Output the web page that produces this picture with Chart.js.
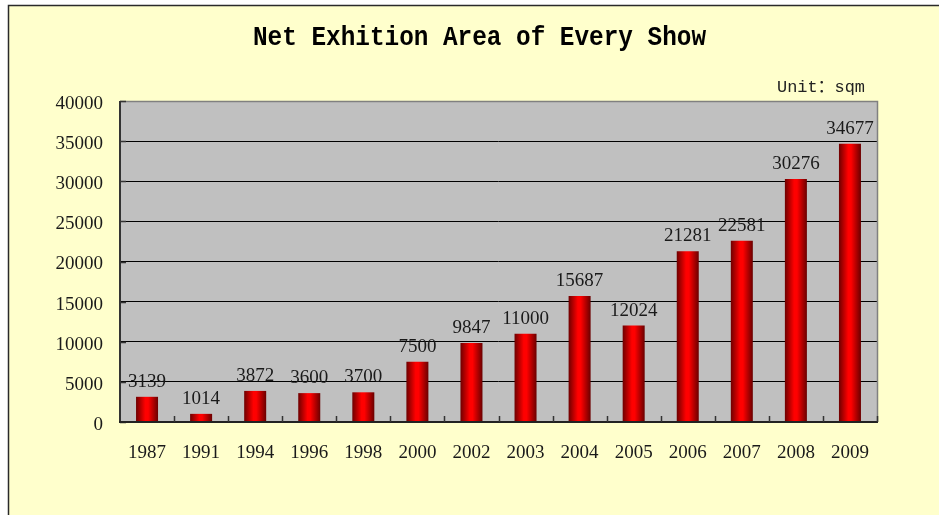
<!DOCTYPE html>
<html>
<head>
<meta charset="utf-8">
<script src="https://cdn.jsdelivr.net/npm/chart.js@4/dist/chart.umd.min.js"></script>
<style>
html,body{margin:0;padding:0;background:#ffffff;}
#wrap{position:relative;width:939px;height:515px;}
canvas{display:block;}
</style>
</head>
<body>
<div id="wrap"><canvas id="c" width="939" height="515"></canvas></div>
<script>
const years = ['1987','1991','1994','1996','1998','2000','2002','2003','2004','2005','2006','2007','2008','2009'];
const areaValues = [3139,1014,3872,3600,3700,7500,9847,11000,15687,12024,21281,22581,30276,34677];
const yTicks = [0,5000,10000,15000,20000,25000,30000,35000,40000];
const titleText = 'Net Exhition Area of Every Show';
const unitText = 'Unit：sqm';

const BAR_FRACTION = 0.407;

function barGradient(context) {
  const chart = context.chart;
  const xs = chart.scales && chart.scales.x;
  if (!xs || !chart.chartArea) return '#e00000';
  const cx = xs.getPixelForValue(context.dataIndex);
  const w = (xs.width / years.length) * BAR_FRACTION;
  const g = chart.ctx.createLinearGradient(cx - w / 2, 0, cx + w / 2, 0);
  g.addColorStop(0, '#6e0000');
  g.addColorStop(0.42, '#ff0000');
  g.addColorStop(0.55, '#ff0000');
  g.addColorStop(1, '#6a0000');
  return g;
}

function fitText(ctx, text, x, y, targetW, align) {
  const w = ctx.measureText(text).width;
  const s = targetW / w;
  ctx.save();
  ctx.translate(x, y);
  ctx.scale(s, 1);
  ctx.textAlign = 'left';
  let ox = 0;
  if (align === 'center') ox = -w / 2;
  else if (align === 'right') ox = -w;
  ctx.fillText(text, ox, 0);
  ctx.restore();
}

const decor = {
  id: 'decor',
  beforeDraw(chart) {
    const ctx = chart.ctx;
    const a = chart.chartArea;
    ctx.save();
    ctx.fillStyle = '#ffffff';
    ctx.fillRect(0, 0, chart.width, chart.height);
    ctx.fillStyle = '#ffffcc';
    ctx.fillRect(8, 5, chart.width - 8, chart.height - 5);
    ctx.strokeStyle = '#2a2a2a';
    ctx.lineWidth = 1.5;
    ctx.beginPath();
    ctx.moveTo(8.5, chart.height + 2);
    ctx.lineTo(8.5, 5.5);
    ctx.lineTo(chart.width + 2, 5.5);
    ctx.stroke();
    // plot background
    ctx.fillStyle = '#c0c0c0';
    ctx.fillRect(a.left, a.top, a.right - a.left, a.bottom - a.top);
    // title
    ctx.fillStyle = '#000000';
    ctx.textBaseline = 'alphabetic';
    ctx.font = 'bold 28px "Liberation Mono", "DejaVu Sans Mono", monospace';
    fitText(ctx, titleText, 479.5, 45, 453, 'center');
    ctx.fillStyle = '#222222';
    ctx.font = '17px "Liberation Mono", "Noto Sans CJK SC", monospace';
    fitText(ctx, unitText, 865, 92, 88, 'right');
    ctx.restore();
  },
  afterDatasetsDraw(chart) {
    const ctx = chart.ctx;
    const a = chart.chartArea;
    const xs = chart.scales.x;
    ctx.save();
    // plot border top/right
    ctx.strokeStyle = '#808080';
    ctx.lineWidth = 1.5;
    ctx.beginPath();
    ctx.moveTo(a.left, a.top + 0.5);
    ctx.lineTo(a.right + 0.5, a.top + 0.5);
    ctx.lineTo(a.right + 0.5, a.bottom);
    ctx.stroke();
    // left axis
    ctx.strokeStyle = '#333333';
    ctx.lineWidth = 2;
    ctx.beginPath();
    ctx.moveTo(a.left, a.top);
    ctx.lineTo(a.left, a.bottom);
    ctx.stroke();
    // y inside ticks
    const ys = chart.scales.y;
    ctx.lineWidth = 1.5;
    ctx.beginPath();
    yTicks.forEach(v => {
      const py = Math.round(ys.getPixelForValue(v)) + 0.5;
      ctx.moveTo(a.left, py);
      ctx.lineTo(a.left + 6, py);
    });
    ctx.stroke();
    // bottom axis
    ctx.strokeStyle = '#222222';
    ctx.lineWidth = 2;
    ctx.beginPath();
    ctx.moveTo(a.left - 1, a.bottom);
    ctx.lineTo(a.right + 1, a.bottom);
    ctx.stroke();
    // x inside ticks at category boundaries
    ctx.lineWidth = 1.5;
    ctx.strokeStyle = '#333333';
    ctx.beginPath();
    const step = xs.width / years.length;
    for (let i = 1; i <= years.length; i++) {
      const px = Math.round(a.left + i * step) + 0.5;
      ctx.moveTo(px, a.bottom);
      ctx.lineTo(px, a.bottom - 6);
    }
    ctx.stroke();
    // data labels
    const meta = chart.getDatasetMeta(0);
    ctx.fillStyle = '#1a1a1a';
    ctx.font = '19px "Liberation Serif", "DejaVu Serif", serif';
    ctx.textAlign = 'center';
    ctx.textBaseline = 'alphabetic';
    meta.data.forEach((bar, i) => {
      ctx.fillText(String(areaValues[i]), bar.x, bar.y - 10);
    });
    ctx.restore();
  }
};

new Chart(document.getElementById('c'), {
  type: 'bar',
  data: {
    labels: years,
    datasets: [{
      data: areaValues,
      backgroundColor: barGradient,
      borderWidth: 0,
      barPercentage: BAR_FRACTION,
      categoryPercentage: 1.0
    }]
  },
  options: {
    responsive: false,
    animation: false,
    events: [],
    layout: { padding: { left: 0, top: 101, right: 62, bottom: 0 } },
    plugins: { legend: { display: false }, title: { display: false }, tooltip: { enabled: false } },
    scales: {
      x: {
        grid: { display: false, drawTicks: false },
        border: { display: false },
        ticks: { color: '#1a1a1a', padding: 20, font: { family: '"Liberation Serif", "DejaVu Serif", serif', size: 19 }, maxRotation: 0, autoSkip: false },
        afterFit(scale) { scale.height = 93; }
      },
      y: {
        min: 0, max: 40000,
        afterBuildTicks(scale) { scale.ticks = yTicks.map(v => ({ value: v })); },
        grid: { color: '#000000', lineWidth: 1, drawTicks: false },
        border: { display: false },
        ticks: { color: '#1a1a1a', padding: 17, labelOffset: 3, callback: v => String(v), font: { family: '"Liberation Serif", "DejaVu Serif", serif', size: 19 } },
        afterFit(scale) { scale.width = 120; }
      }
    }
  },
  plugins: [decor]
});
</script>
</body>
</html>
